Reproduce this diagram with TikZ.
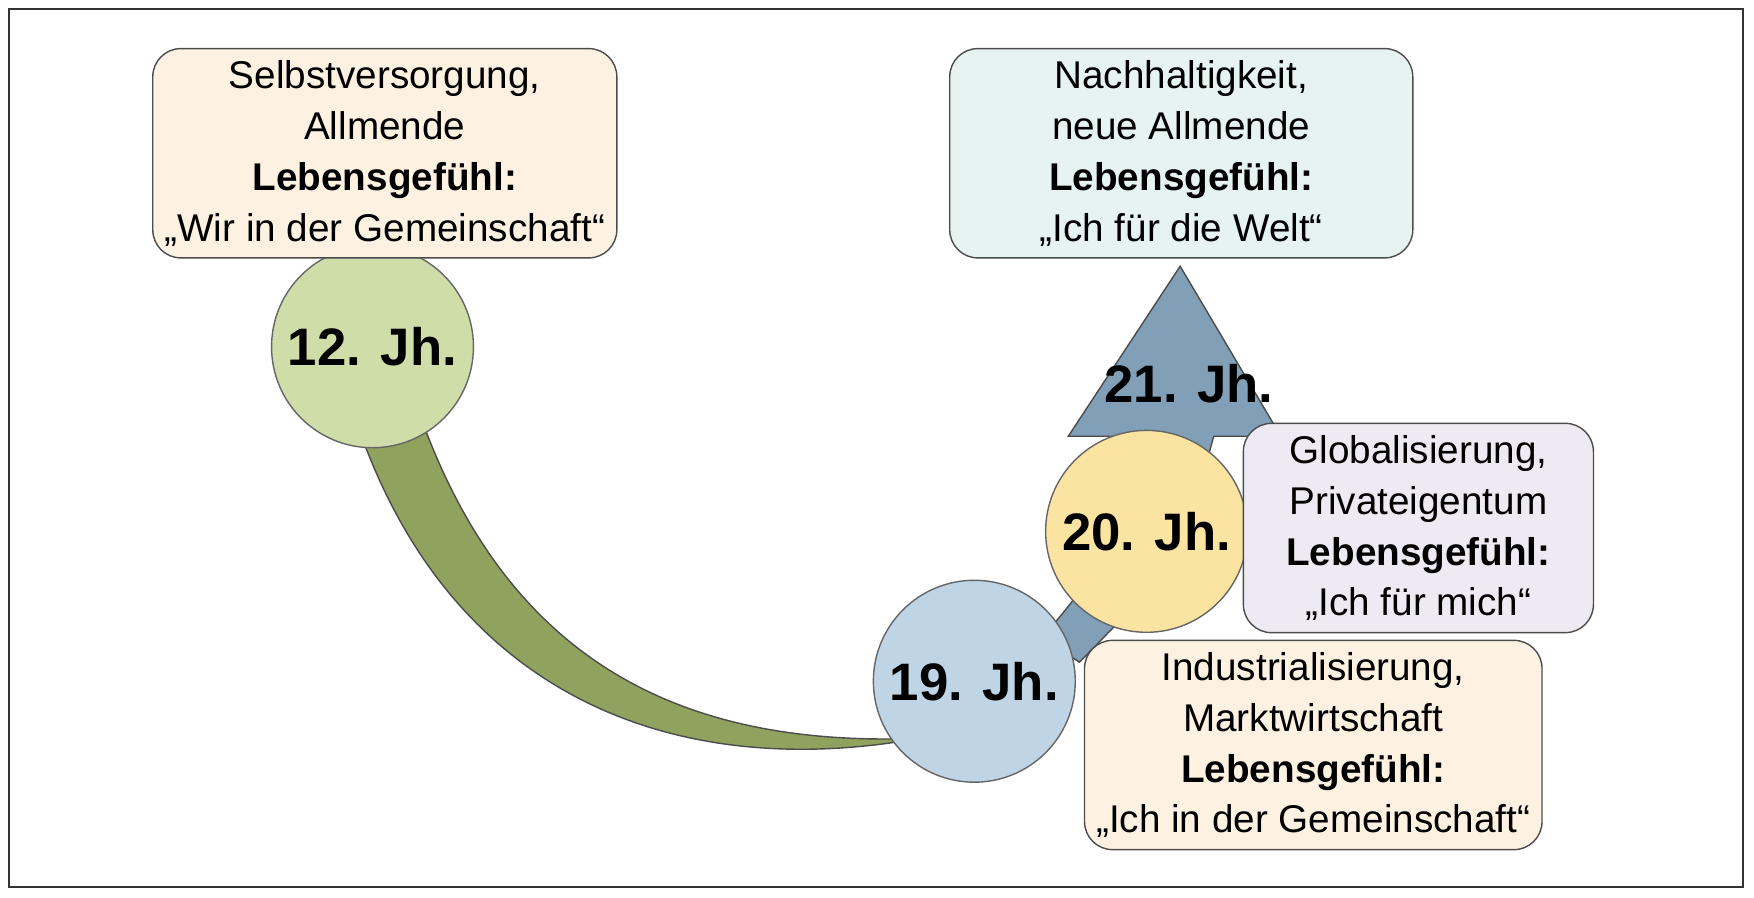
\documentclass[tikz,border=0pt]{standalone}
\usepackage{fontspec}
\setmainfont{Liberation Sans}
\usetikzlibrary{positioning}
\definecolor{peach}{HTML}{FDF1E2}
\definecolor{mint}{HTML}{E7F3F1}
\definecolor{lilac}{HTML}{EEEAF4}
\definecolor{leaf}{HTML}{CFDDA9}
\definecolor{sky}{HTML}{BFD4E4}
\definecolor{sun}{HTML}{FBE3A2}
\definecolor{moss}{HTML}{8FA35E}
\definecolor{steel}{HTML}{819FB6}
\begin{document}
\begin{tikzpicture}[x=0.011186cm,y=-0.011186cm,
  box/.style={draw=black!70,rounded corners=8pt,align=center,font=\fontsize{11}{14.5}\selectfont,minimum height=2.05cm},
  era/.style={draw=black!60,circle,font=\fontsize{15}{18}\selectfont\bfseries}]
  \useasboundingbox (0,0) rectangle (1568,802);
  \draw[black!80] (8,8) rectangle (1558,793);
  % shapes
  \draw[black!70,fill=moss] (318,375) .. controls (400,620) and (600,700) .. (822,660)
     .. controls (620,668) and (460,600) .. (378,378) -- cycle;
  \draw[black!70,fill=steel] (932,570) .. controls (990,500) .. (1030,390) -- (955,390) -- (1055,238)
     -- (1145,390) -- (1085,390) .. controls (1055,500) .. (965,592) -- cycle;
  % nodes
  \node[era,fill=leaf,minimum size=1.39cm] (c12) at (333,310) {12. Jh.};
  \node[era,fill=sky,minimum size=1.52cm] (c19) at (871,609) {19. Jh.};
  \node[era,fill=sun,minimum size=1.56cm] (c20) at (1025,475) {20. Jh.};
  \node[font=\fontsize{15}{18}\selectfont\bfseries] (c21) at (1063,343) {21. Jh.};
  \node[box,fill=peach,minimum width=4.64cm] (b12) at (344,137) {Selbstversorgung,\\Allmende\\\textbf{Lebensgefühl:}\\„Wir in der Gemeinschaft“};
  \node[box,fill=mint,minimum width=4.63cm] (b21) at (1056,137) {Nachhaltigkeit,\\neue Allmende\\\textbf{Lebensgefühl:}\\„Ich für die Welt“};
  \node[box,fill=lilac,minimum width=3.5cm] (b20) at (1268,472) {Globalisierung,\\Privateigentum\\\textbf{Lebensgefühl:}\\„Ich für mich“};
  \node[box,fill=peach,minimum width=4.42cm] (b19) at (1174,666) {Industrialisierung,\\Marktwirtschaft\\\textbf{Lebensgefühl:}\\„Ich in der Gemeinschaft“};
\end{tikzpicture}
\end{document}
